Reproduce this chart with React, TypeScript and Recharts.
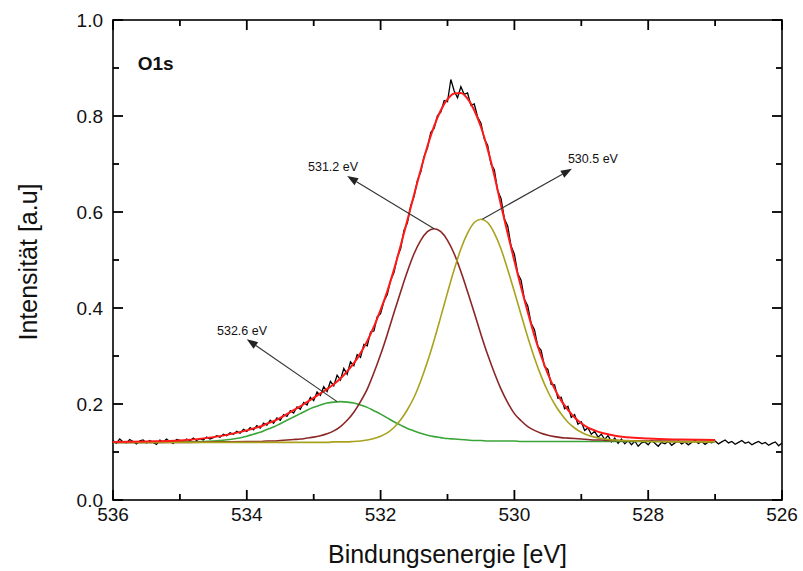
import React from 'react';
import { LineChart, Line, XAxis, YAxis, ReferenceLine, ReferenceDot } from 'recharts';

// Measured O1s spectrum: binding energy (eV) and normalised intensity
const spectrumEnergy = [
  536, 535.95, 535.9, 535.85, 535.8, 535.75, 535.7, 535.65, 535.6, 535.55,
  535.5, 535.45, 535.4, 535.35, 535.3, 535.25, 535.2, 535.15, 535.1, 535.05,
  535, 534.95, 534.9, 534.85, 534.8, 534.75, 534.7, 534.65, 534.6, 534.55,
  534.5, 534.45, 534.4, 534.35, 534.3, 534.25, 534.2, 534.15, 534.1, 534.05,
  534, 533.95, 533.9, 533.85, 533.8, 533.75, 533.7, 533.65, 533.6, 533.55,
  533.5, 533.45, 533.4, 533.35, 533.3, 533.25, 533.2, 533.15, 533.1, 533.05,
  533, 532.95, 532.9, 532.85, 532.8, 532.75, 532.7, 532.65, 532.6, 532.55,
  532.5, 532.45, 532.4, 532.35, 532.3, 532.25, 532.2, 532.15, 532.1, 532.05,
  532, 531.95, 531.9, 531.85, 531.8, 531.75, 531.7, 531.65, 531.6, 531.55,
  531.5, 531.45, 531.4, 531.35, 531.3, 531.25, 531.2, 531.15, 531.1, 531.05,
  531, 530.95, 530.9, 530.85, 530.8, 530.75, 530.7, 530.65, 530.6, 530.55,
  530.5, 530.45, 530.4, 530.35, 530.3, 530.25, 530.2, 530.15, 530.1, 530.05,
  530, 529.95, 529.9, 529.85, 529.8, 529.75, 529.7, 529.65, 529.6, 529.55,
  529.5, 529.45, 529.4, 529.35, 529.3, 529.25, 529.2, 529.15, 529.1, 529.05,
  529, 528.95, 528.9, 528.85, 528.8, 528.75, 528.7, 528.65, 528.6, 528.55,
  528.5, 528.45, 528.4, 528.35, 528.3, 528.25, 528.2, 528.15, 528.1, 528.05,
  528, 527.95, 527.9, 527.85, 527.8, 527.75, 527.7, 527.65, 527.6, 527.55,
  527.5, 527.45, 527.4, 527.35, 527.3, 527.25, 527.2, 527.15, 527.1, 527.05,
  527, 526.95, 526.9, 526.85, 526.8, 526.75, 526.7, 526.65, 526.6, 526.55,
  526.5, 526.45, 526.4, 526.35, 526.3, 526.25, 526.2, 526.15, 526.1, 526.05,
  526,
];
const spectrumIntensity = [
  0.124, 0.118, 0.127, 0.121, 0.119, 0.126, 0.122, 0.117, 0.123, 0.125,
  0.119, 0.124, 0.120, 0.116, 0.125, 0.121, 0.127, 0.122, 0.118, 0.126,
  0.124, 0.121, 0.127, 0.123, 0.129, 0.124, 0.128, 0.125, 0.131, 0.127,
  0.130, 0.134, 0.131, 0.137, 0.134, 0.140, 0.137, 0.143, 0.139, 0.147,
  0.143, 0.151, 0.146, 0.155, 0.150, 0.160, 0.156, 0.166, 0.160, 0.171,
  0.166, 0.178, 0.174, 0.186, 0.181, 0.194, 0.189, 0.203, 0.198, 0.214,
  0.207, 0.225, 0.218, 0.236, 0.226, 0.247, 0.238, 0.260, 0.250, 0.274,
  0.262, 0.288, 0.280, 0.303, 0.297, 0.324, 0.321, 0.350, 0.352, 0.382,
  0.388, 0.414, 0.428, 0.458, 0.474, 0.506, 0.524, 0.562, 0.577, 0.613,
  0.632, 0.666, 0.683, 0.716, 0.733, 0.766, 0.774, 0.801, 0.808, 0.832,
  0.830, 0.876, 0.852, 0.838, 0.861, 0.845, 0.848, 0.822, 0.825, 0.798,
  0.785, 0.752, 0.739, 0.700, 0.688, 0.644, 0.628, 0.586, 0.571, 0.529,
  0.512, 0.472, 0.458, 0.418, 0.404, 0.368, 0.355, 0.320, 0.312, 0.278,
  0.272, 0.241, 0.240, 0.212, 0.214, 0.190, 0.195, 0.172, 0.178, 0.158,
  0.163, 0.145, 0.150, 0.137, 0.143, 0.131, 0.137, 0.126, 0.134, 0.121,
  0.129, 0.118, 0.127, 0.117, 0.124, 0.115, 0.123, 0.112, 0.119, 0.121,
  0.115, 0.124, 0.118, 0.112, 0.120, 0.117, 0.122, 0.114, 0.119, 0.123,
  0.117, 0.121, 0.115, 0.120, 0.124, 0.118, 0.122, 0.116, 0.121, 0.119,
  0.123, 0.117, 0.121, 0.125, 0.119, 0.122, 0.116, 0.120, 0.124, 0.118,
  0.121, 0.115, 0.119, 0.122, 0.117, 0.120, 0.114, 0.118, 0.121, 0.113,
  0.119,
];

// Fit grid (eV) and the fitted curves on it
const fitEnergy = [
  536, 535.5, 535, 534.5,
  534, 533.9, 533.8, 533.7, 533.6, 533.5, 533.4, 533.3, 533.2, 533.1,
  533, 532.9, 532.8, 532.7, 532.6, 532.5, 532.4, 532.3, 532.2, 532.1,
  532, 531.9, 531.8, 531.7, 531.6, 531.5, 531.4, 531.3, 531.2, 531.1,
  531, 530.9, 530.8, 530.7, 530.6, 530.5, 530.4, 530.3, 530.2, 530.1,
  530, 529.9, 529.8, 529.7, 529.6, 529.5, 529.4, 529.3, 529.2, 529.1,
  529, 528.9, 528.8, 528.7, 528.6, 528.5,
  528, 527.5, 527,
];
const fitEnvelope = [
  0.121, 0.122, 0.124, 0.131,
  0.145, 0.149, 0.153, 0.159, 0.164, 0.171, 0.179, 0.187, 0.195, 0.204,
  0.213, 0.222, 0.231, 0.241, 0.253, 0.268, 0.285, 0.306, 0.331, 0.361,
  0.396, 0.435, 0.480, 0.530, 0.583, 0.636, 0.688, 0.737, 0.779, 0.812,
  0.835, 0.847, 0.848, 0.836, 0.812, 0.777, 0.731, 0.676, 0.614, 0.555,
  0.498, 0.443, 0.391, 0.342, 0.300, 0.263, 0.232, 0.207, 0.188, 0.172,
  0.160, 0.151, 0.145, 0.140, 0.137, 0.134,
  0.128, 0.126, 0.125,
];
const peak5326 = [
  0.120, 0.120, 0.121, 0.123,
  0.133, 0.137, 0.141, 0.147, 0.152, 0.159, 0.166, 0.173, 0.180, 0.187,
  0.193, 0.198, 0.202, 0.204, 0.205, 0.204, 0.202, 0.198, 0.193, 0.186,
  0.179, 0.171, 0.163, 0.156, 0.149, 0.144, 0.139, 0.135, 0.132, 0.130,
  0.128, 0.127, 0.126, 0.125, 0.124, 0.124, 0.123, 0.123, 0.123, 0.123,
  0.123, 0.122, 0.122, 0.122, 0.122, 0.122, 0.122, 0.122, 0.122, 0.122,
  0.122, 0.122, 0.122, 0.122, 0.122, 0.122,
  0.122, 0.122, 0.122,
];
const peak5312 = [
  0.120, 0.120, 0.120, 0.121,
  0.122, 0.122, 0.122, 0.123, 0.123, 0.124, 0.125, 0.126, 0.127, 0.129,
  0.131, 0.134, 0.138, 0.144, 0.153, 0.166, 0.183, 0.205, 0.231, 0.265,
  0.303, 0.345, 0.390, 0.434, 0.476, 0.513, 0.541, 0.559, 0.565, 0.559,
  0.541, 0.513, 0.476, 0.434, 0.390, 0.345, 0.303, 0.265, 0.231, 0.203,
  0.180, 0.165, 0.153, 0.145, 0.139, 0.135, 0.132, 0.130, 0.129, 0.128,
  0.127, 0.126, 0.125, 0.125, 0.124, 0.124,
  0.123, 0.122, 0.122,
];
const peak5305 = [
  0.120, 0.120, 0.120, 0.120,
  0.120, 0.120, 0.120, 0.120, 0.120, 0.120, 0.120, 0.120, 0.120, 0.120,
  0.120, 0.120, 0.120, 0.121, 0.121, 0.121, 0.122, 0.123, 0.125, 0.128,
  0.133, 0.140, 0.151, 0.167, 0.188, 0.214, 0.248, 0.288, 0.333, 0.382,
  0.432, 0.480, 0.523, 0.556, 0.578, 0.585, 0.578, 0.556, 0.523, 0.480,
  0.434, 0.386, 0.339, 0.296, 0.258, 0.226, 0.200, 0.179, 0.162, 0.150,
  0.141, 0.135, 0.131, 0.128, 0.126, 0.125,
  0.122, 0.121, 0.121,
];

const xMajorTicks = [536, 534, 532, 530, 528, 526];
const xMinorTicks = [535, 533, 531, 529, 527];
const yMajorTicks = [0, 0.2, 0.4, 0.6, 0.8, 1.0];
const yMinorTicks = [0.1, 0.3, 0.5, 0.7, 0.9];

const toPoints = (xs: number[], ys: number[]) => xs.map((e, i) => ({ e, v: ys[i] }));
const spectrum = toPoints(spectrumEnergy, spectrumIntensity);
const envelope = toPoints(fitEnergy, fitEnvelope);
const comp5326 = toPoints(fitEnergy, peak5326);
const comp5312 = toPoints(fitEnergy, peak5312);
const comp5305 = toPoints(fitEnergy, peak5305);

const X_MIN = 526;
const X_MAX = 536;

const FONT = '"Liberation Sans", Arial, Helvetica, sans-serif';
const tickText = { fontSize: 19, fill: '#111', fontFamily: FONT };
const MAJOR = 10;
const MINOR = 6;

// Two reference points of the frame; the shape maps energies and
// intensities linearly between the pixel positions Recharts gives them.
const REF_A = { x: 535, y: 0.1 };
const REF_B = { x: 527, y: 0.9 };

const FrameWithTicks = ({ x1, y1, x2, y2 }: any) => {
  const px = (e: number) => x1 + ((e - REF_A.x) / (REF_B.x - REF_A.x)) * (x2 - x1);
  const py = (v: number) => y1 + ((v - REF_A.y) / (REF_B.y - REF_A.y)) * (y2 - y1);
  const left = px(X_MAX);
  const right = px(X_MIN);
  const top = py(1);
  const bottom = py(0);
  const marks: React.ReactNode[] = [];
  const addY = (v: number, len: number) => {
    marks.push(<line key={`l${v}`} x1={left} x2={left + len} y1={py(v)} y2={py(v)} />);
    marks.push(<line key={`r${v}`} x1={right} x2={right - len} y1={py(v)} y2={py(v)} />);
  };
  const addX = (e: number, len: number) => {
    marks.push(<line key={`b${e}`} x1={px(e)} x2={px(e)} y1={bottom} y2={bottom - len} />);
    marks.push(<line key={`t${e}`} x1={px(e)} x2={px(e)} y1={top} y2={top + len} />);
  };
  yMajorTicks.forEach((v) => addY(v, MAJOR));
  yMinorTicks.forEach((v) => addY(v, MINOR));
  xMajorTicks.forEach((e) => addX(e, MAJOR));
  xMinorTicks.forEach((e) => addX(e, MINOR));
  return (
    <g stroke="#000" strokeWidth={1.8} fill="none">
      <rect x={left} y={top} width={right - left} height={bottom - top} strokeWidth={1.6} />
      {marks}
    </g>
  );
};

// line with a filled arrowhead at its second point
const Arrow = ({ x1, y1, x2, y2 }: any) => {
  const a = Math.atan2(y2 - y1, x2 - x1);
  const len = 11;
  const half = 4;
  const bx = x2 - len * Math.cos(a);
  const by = y2 - len * Math.sin(a);
  const pts = `${x2},${y2} ${bx - half * Math.sin(a)},${by + half * Math.cos(a)} ${bx + half * Math.sin(a)},${by - half * Math.cos(a)}`;
  return (
    <g>
      <line x1={x1} y1={y1} x2={bx} y2={by} stroke="#333" strokeWidth={1.1} />
      <polygon points={pts} fill="#222" />
    </g>
  );
};

const textShape = (label: string, size: number, weight: string | number) => ({ cx, cy }: any) => (
  <text x={cx} y={cy} fontFamily={FONT} fontSize={size} fontWeight={weight} fill="#111">
    {label}
  </text>
);

export default function App() {
  return (
    <div style={{ position: 'absolute', left: 0, top: 0, background: '#fff' }}>
      <LineChart width={803} height={571} margin={{ top: 20, right: 21, bottom: 0, left: 0 }}>
        <XAxis
          dataKey="e"
          type="number"
          domain={[X_MIN, X_MAX]}
          reversed
          allowDataOverflow
          ticks={xMajorTicks}
          interval={0}
          height={71}
          tickSize={0}
          tickMargin={8}
          tick={tickText}
          tickLine={false}
          axisLine={false}
          label={{
            content: ({ viewBox }: any) => (
              <text x={viewBox.x + viewBox.width / 2} y={viewBox.y + 63} textAnchor="middle" fontFamily={FONT} fontSize={25} fill="#111">
                Bindungsenergie [eV]
              </text>
            ),
          }}
        />
        <YAxis
          type="number"
          domain={[0, 1]}
          allowDataOverflow
          ticks={yMajorTicks}
          interval={0}
          width={113}
          tickSize={0}
          tickMargin={10}
          tick={tickText}
          tickFormatter={(v: number) => v.toFixed(1)}
          tickLine={false}
          axisLine={false}
          label={{
            content: () => (
              <text x={37} y={262} transform="rotate(-90, 37, 262)" textAnchor="middle" fontFamily={FONT} fontSize={25} fill="#111">
                Intensität [a.u]
              </text>
            ),
          }}
        />

        {/* frame with inward ticks on all four sides */}
        <ReferenceLine segment={[REF_A, REF_B]} shape={FrameWithTicks} ifOverflow="visible" />

        <Line data={spectrum} dataKey="v" type="linear" stroke="#000" strokeWidth={1.3} dot={false} activeDot={false} isAnimationActive={false} />
        <Line data={comp5326} dataKey="v" type="monotone" stroke="#3aa537" strokeWidth={1.6} dot={false} activeDot={false} isAnimationActive={false} />
        <Line data={comp5312} dataKey="v" type="monotone" stroke="#8c2626" strokeWidth={1.6} dot={false} activeDot={false} isAnimationActive={false} />
        <Line data={comp5305} dataKey="v" type="monotone" stroke="#a9a21d" strokeWidth={1.6} dot={false} activeDot={false} isAnimationActive={false} />
        <Line data={envelope} dataKey="v" type="monotone" stroke="#ff1a1a" strokeWidth={2} dot={false} activeDot={false} isAnimationActive={false} />

        <ReferenceLine segment={[{ x: 532.65, y: 0.205 }, { x: 534.0, y: 0.335 }]} shape={Arrow} ifOverflow="visible" />
        <ReferenceLine segment={[{ x: 531.2, y: 0.565 }, { x: 532.5, y: 0.675 }]} shape={Arrow} ifOverflow="visible" />
        <ReferenceLine segment={[{ x: 530.48, y: 0.585 }, { x: 529.14, y: 0.69 }]} shape={Arrow} ifOverflow="visible" />

        <ReferenceDot x={534.445} y={0.344} r={0} shape={textShape('532.6 eV', 12.5, 'normal')} ifOverflow="visible" />
        <ReferenceDot x={533.085} y={0.685} r={0} shape={textShape('531.2 eV', 12.5, 'normal')} ifOverflow="visible" />
        <ReferenceDot x={529.2} y={0.702} r={0} shape={textShape('530.5 eV', 12.5, 'normal')} ifOverflow="visible" />
        <ReferenceDot x={535.63} y={0.896} r={0} shape={textShape('O1s', 19, 'bold')} ifOverflow="visible" />
      </LineChart>
    </div>
  );
}
